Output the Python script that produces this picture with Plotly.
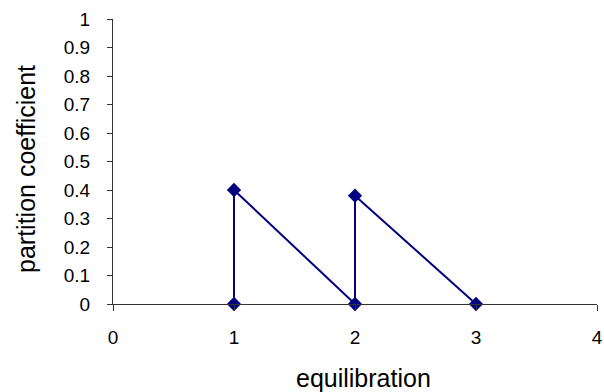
import plotly.graph_objects as go

# Equilibration steps and measured partition coefficients
equilibration = [1, 1, 2, 2, 3]
partition_coefficient = [0, 0.4, 0, 0.38, 0]

x_ticks = [0, 1, 2, 3, 4]
y_ticks = [0, 0.1, 0.2, 0.3, 0.4, 0.5, 0.6, 0.7, 0.8, 0.9, 1]
y_tick_labels = ["0", "0.1", "0.2", "0.3", "0.4", "0.5", "0.6", "0.7", "0.8", "0.9", "1"]

FONT = "Liberation Sans, Arial, sans-serif"
tick_font = dict(family=FONT, size=19, color="#000000")
title_font = dict(family=FONT, size=25, color="#000000")

fig = go.Figure(
    go.Scatter(
        x=equilibration,
        y=partition_coefficient,
        mode="lines+markers",
        line=dict(color="#000080", width=2),
        marker=dict(symbol="diamond", size=11, color="#000080"),
        cliponaxis=False,
        showlegend=False,
    )
)

fig.update_layout(
    width=604,
    height=392,
    margin=dict(l=113, r=7, t=19, b=88, autoexpand=False),
    paper_bgcolor="white",
    plot_bgcolor="white",
    font=tick_font,
    xaxis=dict(
        range=[0, 4],
        tickvals=x_ticks,
        ticks="outside",
        ticklen=6,
        tickcolor="#333333",
        ticklabelstandoff=10,
        showline=True,
        linecolor="#333333",
        linewidth=1,
        showgrid=False,
        zeroline=False,
        automargin=False,
        tickfont=tick_font,
    ),
    yaxis=dict(
        range=[0, 1],
        tickvals=y_ticks,
        ticktext=y_tick_labels,
        ticks="outside",
        ticklen=5,
        tickcolor="#333333",
        ticklabelstandoff=13,
        showline=True,
        linecolor="#333333",
        linewidth=1,
        showgrid=False,
        zeroline=False,
        automargin=False,
        tickfont=tick_font,
    ),
    annotations=[
        dict(
            text="equilibration",
            xref="paper", yref="paper",
            x=0.5176, y=(304 - 378) / 285,
            xanchor="center", yanchor="middle",
            showarrow=False,
            font=title_font,
        ),
        dict(
            text="partition coefficient",
            xref="paper", yref="paper",
            x=(26 - 113) / 484, y=(304 - 169) / 285,
            xanchor="center", yanchor="middle",
            textangle=-90,
            showarrow=False,
            font=title_font,
        ),
    ],
)

fig.write_html("out.html")
